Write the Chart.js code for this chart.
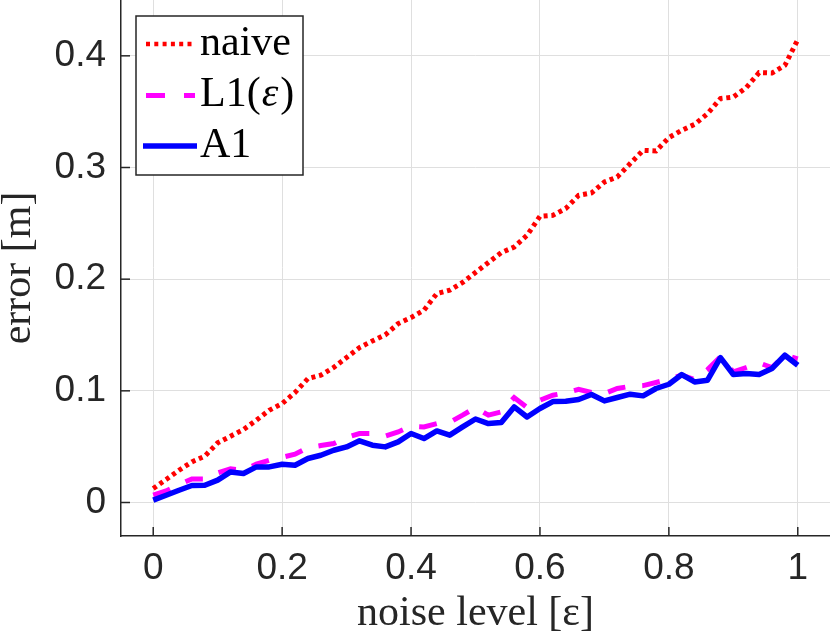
<!DOCTYPE html>
<html><head><meta charset="utf-8">
<script src="https://cdn.jsdelivr.net/npm/chart.js@4"></script>
<style>html,body{margin:0;padding:0;background:#fff}#wrap{width:830px;height:637px;position:relative}</style>
</head><body><div id="wrap"><canvas id="c"></canvas></div>
<script>
const noiseLevels = [0,0.02,0.04,0.06,0.08,0.1,0.12,0.14,0.16,0.18,0.2,0.22,0.24,0.26,0.28,0.3,0.32,0.34,0.36,0.38,0.4,0.42,0.44,0.46,0.48,0.5,0.52,0.54,0.56,0.58,0.6,0.62,0.64,0.66,0.68,0.7,0.72,0.74,0.76,0.78,0.8,0.82,0.84,0.86,0.88,0.9,0.92,0.94,0.96,0.98,1];
const naiveErr = [0.0125,0.0206,0.0289,0.0364,0.0415,0.0534,0.0594,0.0653,0.0737,0.0826,0.0886,0.0985,0.1110,0.1140,0.1209,0.1298,0.1388,0.1447,0.1501,0.1602,0.1656,0.1722,0.1871,0.1901,0.1970,0.2060,0.2149,0.2238,0.2288,0.2393,0.2563,0.2572,0.2632,0.2751,0.2772,0.2870,0.2915,0.3035,0.3154,0.3148,0.3268,0.3333,0.3387,0.3482,0.3617,0.3631,0.3715,0.3850,0.3846,0.3915,0.4145];
const l1Err = [0.0065,0.0104,0.0160,0.0211,0.0211,0.0265,0.0301,0.0289,0.0343,0.0379,0.0405,0.0432,0.0492,0.0510,0.0528,0.0582,0.0618,0.0618,0.0594,0.0632,0.0683,0.0677,0.0707,0.0719,0.0782,0.0850,0.0782,0.0811,0.0940,0.0850,0.0916,0.0961,0.0982,0.1014,0.0985,0.0976,0.1021,0.1041,0.1047,0.1075,0.1104,0.1140,0.1100,0.1190,0.1304,0.1170,0.1209,0.1250,0.1209,0.1319,0.1286];
const a1Err = [0.0021,0.0065,0.0110,0.0152,0.0155,0.0200,0.0274,0.0260,0.0319,0.0319,0.0343,0.0334,0.0394,0.0423,0.0468,0.0498,0.0552,0.0513,0.0498,0.0543,0.0618,0.0573,0.0641,0.0603,0.0677,0.0748,0.0707,0.0716,0.0856,0.0766,0.0842,0.0904,0.0907,0.0922,0.0967,0.0910,0.0940,0.0970,0.0955,0.1021,0.1059,0.1146,0.1080,0.1095,0.1298,0.1146,0.1155,0.1146,0.1200,0.1319,0.1229];
const xTicks = [0,0.2,0.4,0.6,0.8,1];
const xTickLabels = ['0','0.2','0.4','0.6','0.8','1'];
const yTicks = [0,0.1,0.2,0.3,0.4];
const yTickLabels = ['0','0.1','0.2','0.3','0.4'];
const seriesNames = ['naive','L1(ε)','A1'];
const xTitle = 'noise level [ε]';
const yTitle = 'error [m]';

const AX = '#262626';
const toXY = arr => arr.map((v,i)=>({x:noiseLevels[i], y:v}));

const inwardTicks = {
  id:'inwardTicks',
  afterDatasetsDraw(chart){
    const {ctx, chartArea:a, scales:{x,y}} = chart;
    ctx.save(); ctx.strokeStyle=AX; ctx.lineWidth=1.5;
    x.ticks.forEach(t=>{const p=x.getPixelForValue(t.value);ctx.beginPath();ctx.moveTo(p,a.bottom);ctx.lineTo(p,a.bottom-9);ctx.stroke();});
    y.ticks.forEach(t=>{const p=y.getPixelForValue(t.value);ctx.beginPath();ctx.moveTo(a.left,p);ctx.lineTo(a.left+9,p);ctx.stroke();});
    ctx.restore();
  }
};

const boxLegend = {
  id:'boxLegend',
  afterDraw(chart){
    const ctx = chart.ctx;
    const bx=136, by=16, bw=167, bh=159;
    ctx.save();
    ctx.fillStyle='#fff'; ctx.fillRect(bx,by,bw,bh);
    ctx.strokeStyle=AX; ctx.lineWidth=1.5; ctx.strokeRect(bx,by,bw,bh);
    const rows=[44,95.5,146];
    const base=[55,106,157];
    const lw=[4.5,5,5.3];
    chart.data.datasets.forEach((ds,i)=>{
      ctx.save();
      ctx.strokeStyle=ds.borderColor; ctx.lineWidth=lw[i];
      ctx.setLineDash(i===1?[19,19]:(i===0?[4,4.3]:[]));
      ctx.lineCap='butt';
      const x0 = i===2?143:146, x1 = i===2?197:195;
      ctx.beginPath(); ctx.moveTo(x0,rows[i]); ctx.lineTo(x1,rows[i]); ctx.stroke();
      ctx.restore();
      ctx.fillStyle='#000'; ctx.textBaseline='alphabetic'; ctx.textAlign='left';
      const name = ds.label;
      ctx.font='42px "Liberation Serif"';
      if (name.indexOf('ε')>=0){
        const parts = name.split('ε');
        let xx=200;
        ctx.fillText(parts[0],xx,base[i]); xx+=ctx.measureText(parts[0]).width+1;
        ctx.font='italic 42px "Liberation Serif"';
        ctx.fillText('ε',xx,base[i]); xx+=ctx.measureText('ε').width+2;
        ctx.font='42px "Liberation Serif"';
        ctx.fillText(parts[1],xx,base[i]);
      } else ctx.fillText(name,200,base[i]);
    });
    ctx.restore();
  }
};

new Chart(document.getElementById('c'), {
  type:'line',
  data:{datasets:[
    {label:seriesNames[0], data:toXY(naiveErr), borderColor:'#ff0000', borderWidth:5, borderDash:[4,3.8], borderCapStyle:'butt', pointRadius:0, tension:0, order:3},
    {label:seriesNames[1], data:toXY(l1Err), borderColor:'#ff00ff', borderWidth:5, borderDash:[18,17], borderCapStyle:'butt', pointRadius:0, tension:0, order:2},
    {label:seriesNames[2], data:toXY(a1Err), borderColor:'#0000ff', borderWidth:5.5, borderJoinStyle:'round', pointRadius:0, tension:0, order:1}
  ]},
  options:{
    responsive:true, maintainAspectRatio:false, animation:false,
    layout:{padding:0},
    plugins:{legend:{display:false}, tooltip:{enabled:false}},
    scales:{
      x:{type:'linear', min:-0.05, max:1.05,
        afterBuildTicks:s=>{s.ticks=xTicks.map(v=>({value:v}));},
        afterFit:s=>{s.height=101; s.paddingLeft=0; s.paddingRight=0;},
        ticks:{autoSkip:false, maxRotation:0, padding:14, color:AX, font:{family:'"Liberation Sans"', size:37, lineHeight:1},
          callback:v=>{const i=xTicks.indexOf(v);return i>=0?xTickLabels[i]:'';}},
        grid:{color:'#dfdfdf', lineWidth:1, drawTicks:false},
        border:{display:true, color:AX, width:1.5},
        title:{display:true, text:xTitle, color:AX, font:{family:'"Liberation Serif"', size:42, lineHeight:1}, padding:{top:0,bottom:2}}
      },
      y:{type:'linear', min:-0.03, max:0.45,
        afterBuildTicks:s=>{s.ticks=yTicks.map(v=>({value:v}));},
        afterFit:s=>{s.width=121; s.paddingTop=0; s.paddingBottom=0;},
        ticks:{autoSkip:false, padding:15, color:AX, font:{family:'"Liberation Sans"', size:37, lineHeight:1},
          callback:v=>{const i=yTicks.indexOf(v);return i>=0?yTickLabels[i]:'';}},
        grid:{color:'#dfdfdf', lineWidth:1, drawTicks:false},
        border:{display:true, color:AX, width:1.5},
        title:{display:true, text:yTitle, color:AX, font:{family:'"Liberation Serif"', size:42, lineHeight:0.9}, padding:{top:0,bottom:0}}
      }
    }
  },
  plugins:[inwardTicks, boxLegend]
});
</script></body></html>
